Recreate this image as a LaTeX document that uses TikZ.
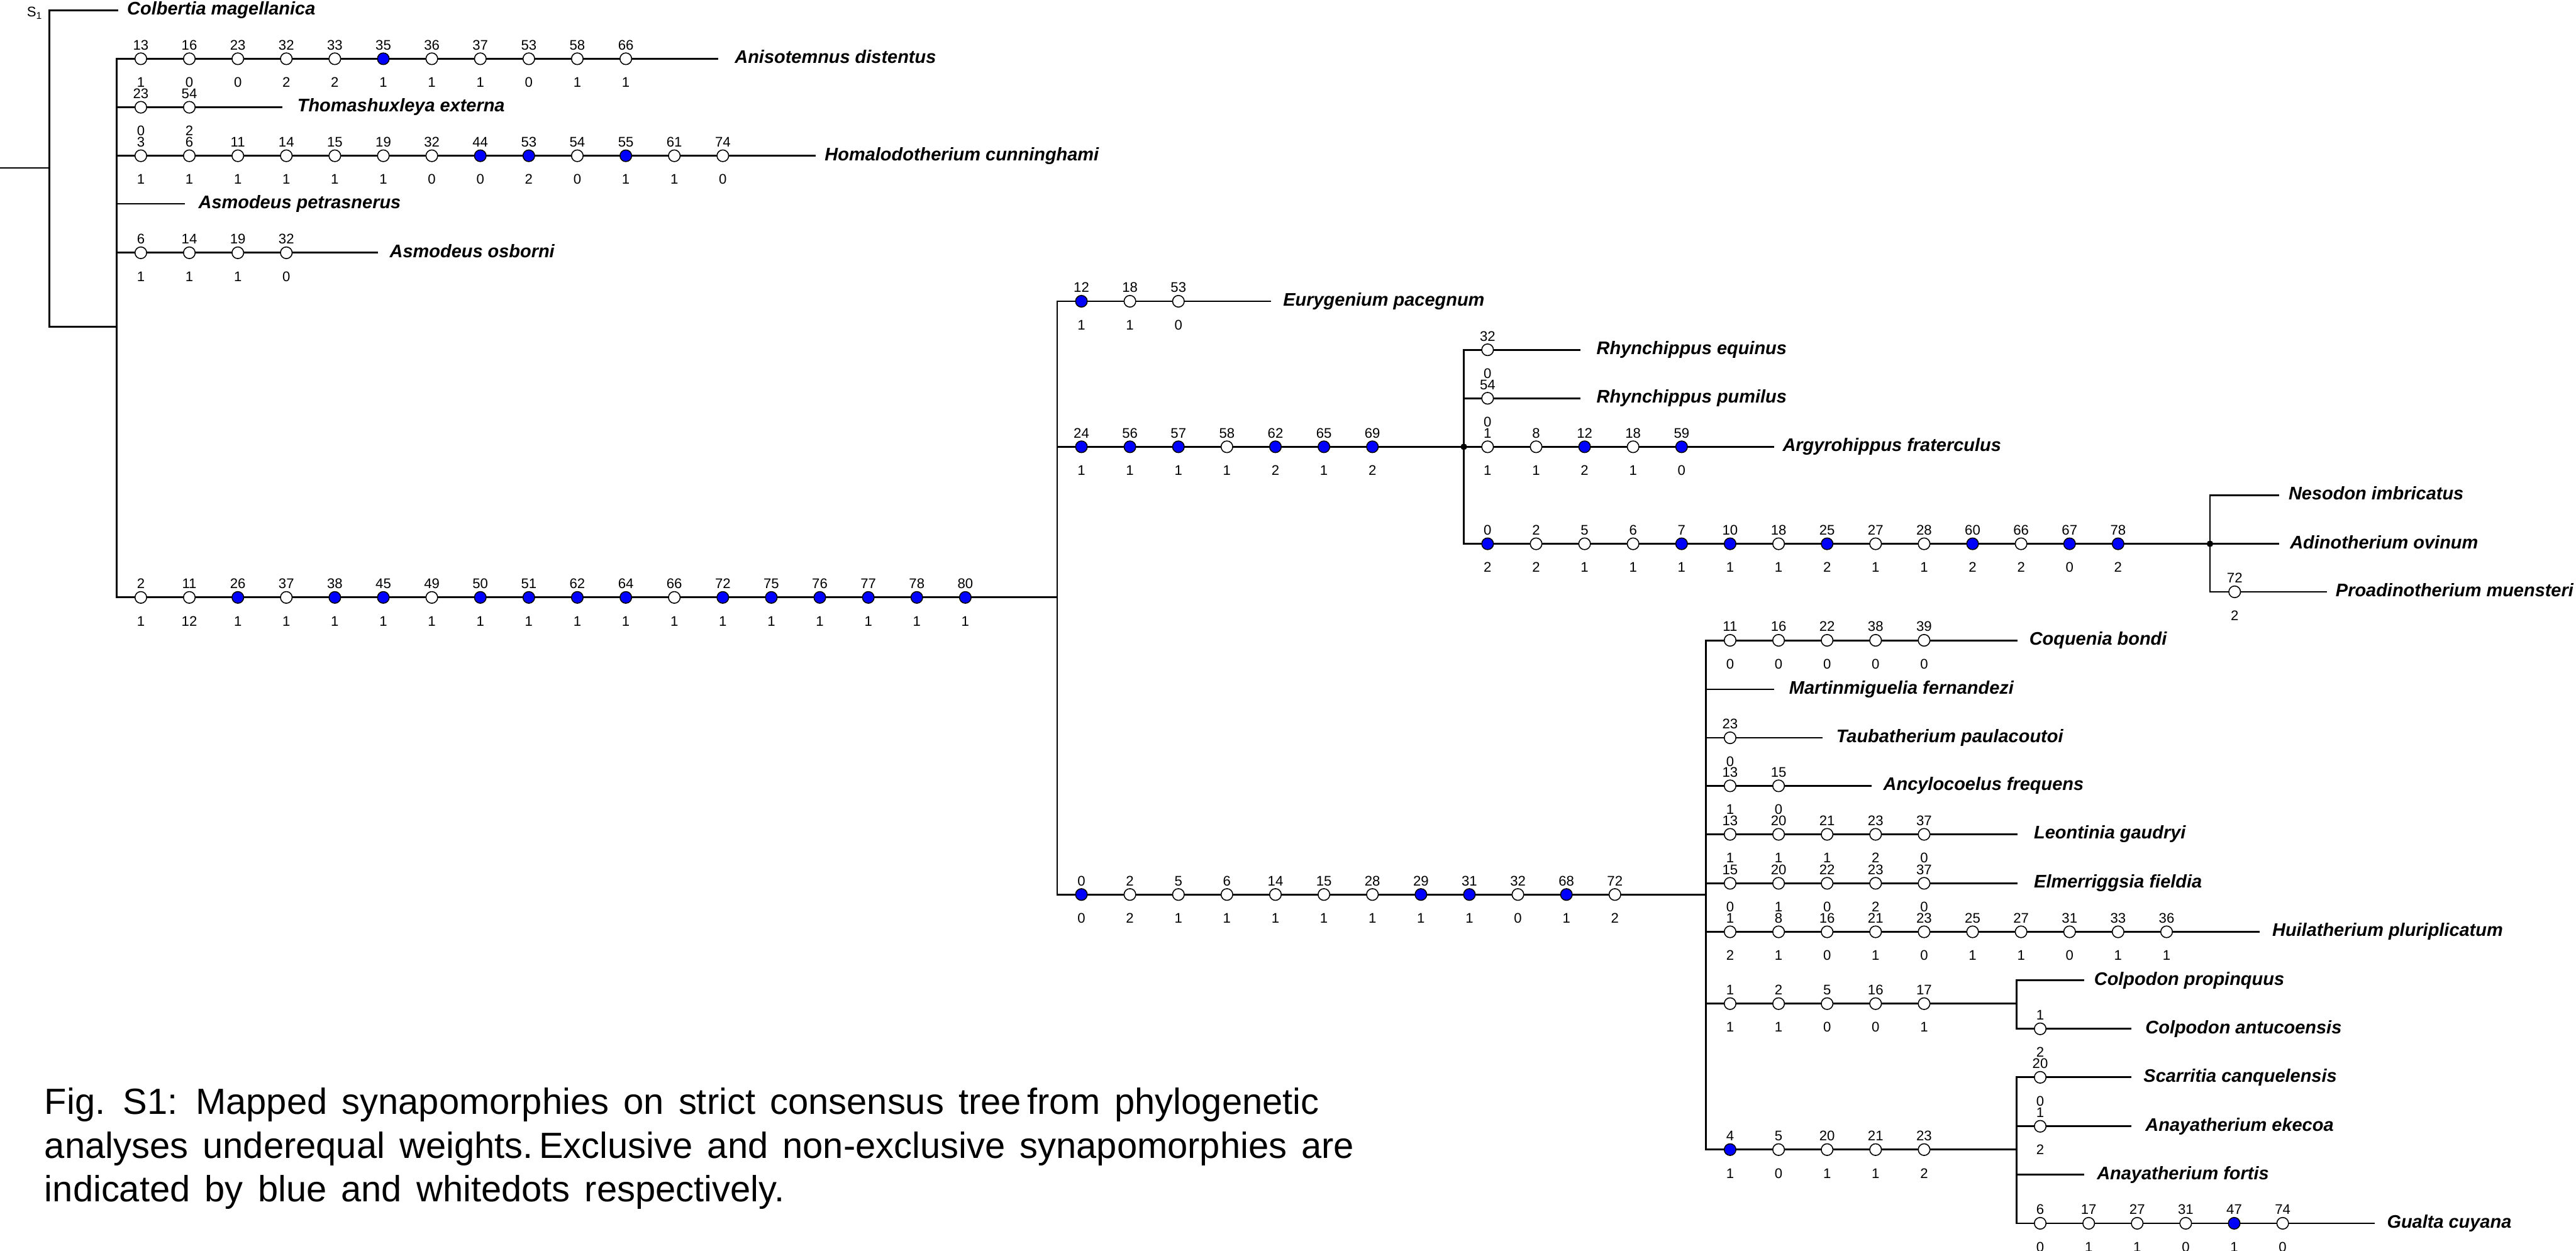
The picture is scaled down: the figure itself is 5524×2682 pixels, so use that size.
\documentclass[tikz,border=0pt]{standalone}
\usepackage{fontspec}
\setmainfont{Liberation Sans}
\tikzset{
 br/.style={line width=1.1pt, line cap=rect},
 dot0/.style={circle, draw=black, fill=white, line width=0.6pt, minimum size=0.25cm, inner sep=0pt},
 dot1/.style={dot0, fill=blue},
 ndot/.style={circle, fill=black, minimum size=0.14cm, inner sep=0pt},
 clab/.style={anchor=base, inner sep=0pt, font=\fontsize{8.5}{10}\selectfont},
 taxon/.style={anchor=base west, inner sep=0pt, font=\fontsize{11.1}{13}\selectfont\bfseries\itshape},
 capt/.style={anchor=base west, inner sep=0pt, font=\fontsize{22.2}{27}\selectfont},
}
\newcommand\capspace{\spaceskip=0.4em\relax}
\newcommand\synap[4]{%
 \foreach \c/\s/\b [count=\i from 0] in {#4} {%
   \pgfmathsetmacro\xx{#2+104*\i}%
   \node[dot\b] (#1-\i) at ({\xx},{#3}) {};
   \node[clab] (#1-c\i) at ({\xx},{#3-19}) {\c};
   \node[clab] (#1-s\i) at ({\xx},{#3+61}) {\s};
 }}
\newcommand\leaf[6]{%
 \coordinate (#1-s) at (#2,#3);
 \coordinate (#1-e) at (#4,#3);
 \draw[br] (#1-s) -- (#1-e);
 \node[taxon] (#1) at ({#5},{#3+10}) {#6};}
\begin{document}
\begin{tikzpicture}[x=0.01cm,y=-0.01cm]
\fill[white] (0,0) rectangle (5524,2682);
\useasboundingbox (0,0) rectangle (5524,2682);
% root
\coordinate (r0) at (0,360);
\coordinate (rM) at (106,360);
\coordinate (rT) at (106,22);
\coordinate (rB) at (106,701);
\coordinate (aB) at (250,701);
\coordinate (aT) at (250,126);
\coordinate (aM) at (250,1281);
\draw[br] (r0) -- (rM);
\draw[br] (rT) -- (rB) -- (aB);
\draw[br] (aT) -- (aM);
\node[clab, anchor=base west] (s1) at (57,36) {S\raisebox{-0.35ex}{\fontsize{6}{7}\selectfont 1}};
\leaf{colb}{106}{22}{252}{272}{Colbertia magellanica}
\leaf{anis}{250}{126}{1538}{1575}{Anisotemnus distentus}
\leaf{thom}{250}{230}{603}{637}{Thomashuxleya externa}
\leaf{homa}{250}{334}{1747}{1768}{Homalodotherium cunninghami}
\leaf{apet}{250}{437}{394}{425}{Asmodeus petrasnerus}
\leaf{aosb}{250}{542}{809}{835}{Asmodeus osborni}
% main stem
\coordinate (bN) at (2267,1281);
\draw[br] (aM) -- (bN);
\coordinate (bT) at (2267,646);
\coordinate (bB) at (2267,1918);
\draw[br] (bT) -- (bB);
\leaf{eury}{2267}{646}{2724}{2751}{Eurygenium pacegnum}
\coordinate (cS) at (2267,958);
\coordinate (cN) at (3139,958);
\draw[br] (cS) -- (cN);
\coordinate (cT) at (3139,750);
\coordinate (cB) at (3139,1166);
\draw[br] (cT) -- (cB);
\leaf{requ}{3139}{750}{3387}{3423}{Rhynchippus equinus}
\leaf{rpum}{3139}{854}{3387}{3423}{Rhynchippus pumilus}
\leaf{argy}{3139}{958}{3802}{3822}{Argyrohippus fraterculus}
\coordinate (dN) at (4739,1166);
\draw[br] (cB) -- (dN);
\coordinate (dT) at (4739,1062);
\coordinate (dB) at (4739,1269);
\draw[br] (dT) -- (dB);
\leaf{neso}{4739}{1062}{4885}{4907}{Nesodon imbricatus}
\leaf{adin}{4739}{1166}{4885}{4910}{Adinotherium ovinum}
\leaf{proa}{4739}{1269}{4988}{5008}{Proadinotherium muensteri}
\node[ndot] (cdot) at (cN) {};
\node[ndot] (ddot) at (dN) {};
% lower clade
\coordinate (eN) at (3658,1918);
\draw[br] (bB) -- (eN);
\coordinate (eT) at (3658,1373);
\coordinate (eB) at (3658,2465);
\draw[br] (eT) -- (eB);
\leaf{coqu}{3658}{1373}{4324}{4351}{Coquenia bondi}
\leaf{mart}{3658}{1478}{3802}{3836}{Martinmiguelia fernandezi}
\leaf{taub}{3658}{1582}{3907}{3937}{Taubatherium paulacoutoi}
\leaf{ancy}{3658}{1685}{4011}{4038}{Ancylocoelus frequens}
\leaf{leon}{3658}{1789}{4324}{4361}{Leontinia gaudryi}
\leaf{elme}{3658}{1894}{4324}{4361}{Elmerriggsia fieldia}
\leaf{huil}{3658}{1998}{4843}{4872}{Huilatherium pluriplicatum}
\coordinate (fS) at (3658,2152);
\coordinate (fN) at (4324,2152);
\draw[br] (fS) -- (fN);
\coordinate (fT) at (4324,2102);
\coordinate (fB) at (4324,2206);
\draw[br] (fT) -- (fB);
\leaf{cpro}{4324}{2102}{4467}{4490}{Colpodon propinquus}
\leaf{cant}{4324}{2206}{4569}{4600}{Colpodon antucoensis}
\coordinate (gN) at (4324,2465);
\draw[br] (eB) -- (gN);
\coordinate (gT) at (4324,2310);
\coordinate (gB) at (4324,2623);
\draw[br] (gT) -- (gB);
\leaf{scar}{4324}{2310}{4569}{4596}{Scarritia canquelensis}
\leaf{aeke}{4324}{2415}{4569}{4600}{Anayatherium ekecoa}
\leaf{afor}{4324}{2519}{4467}{4496}{Anayatherium fortis}
\leaf{gual}{4324}{2623}{5091}{5118}{Gualta cuyana}
% synapomorphies
\synap{sA}{302}{126}{13/1/0,16/0/0,23/0/0,32/2/0,33/2/0,35/1/1,36/1/0,37/1/0,53/0/0,58/1/0,66/1/0}
\synap{sT}{302}{230}{23/0/0,54/2/0}
\synap{sH}{302}{334}{3/1/0,6/1/0,11/1/0,14/1/0,15/1/0,19/1/0,32/0/0,44/0/1,53/2/1,54/0/0,55/1/1,61/1/0,74/0/0}
\synap{sO}{302}{542}{6/1/0,14/1/0,19/1/0,32/0/0}
\synap{sM}{302}{1281}{2/1/0,11/12/0,26/1/1,37/1/0,38/1/1,45/1/1,49/1/0,50/1/1,51/1/1,62/1/1,64/1/1,66/1/0,72/1/1,75/1/1,76/1/1,77/1/1,78/1/1,80/1/1}
\synap{sE}{2319}{646}{12/1/1,18/1/0,53/0/0}
\synap{sC}{2319}{958}{24/1/1,56/1/1,57/1/1,58/1/0,62/2/1,65/1/1,69/2/1}
\synap{sRe}{3190}{750}{32/0/0}
\synap{sRp}{3190}{854}{54/0/0}
\synap{sAr}{3190}{958}{1/1/0,8/1/0,12/2/1,18/1/0,59/0/1}
\synap{sD}{3190}{1166}{0/2/1,2/2/0,5/1/0,6/1/0,7/1/1,10/1/1,18/1/0,25/2/1,27/1/0,28/1/0,60/2/1,66/2/0,67/0/1,78/2/1}
\synap{sP}{4792}{1269}{72/2/0}
\synap{sL}{2319}{1918}{0/0/1,2/2/0,5/1/0,6/1/0,14/1/0,15/1/0,28/1/0,29/1/1,31/1/1,32/0/0,68/1/1,72/2/0}
\synap{sCq}{3710}{1373}{11/0/0,16/0/0,22/0/0,38/0/0,39/0/0}
\synap{sTa}{3710}{1582}{23/0/0}
\synap{sAn}{3710}{1685}{13/1/0,15/0/0}
\synap{sLe}{3710}{1789}{13/1/0,20/1/0,21/1/0,23/2/0,37/0/0}
\synap{sEl}{3710}{1894}{15/0/0,20/1/0,22/0/0,23/2/0,37/0/0}
\synap{sHu}{3710}{1998}{1/2/0,8/1/0,16/0/0,21/1/0,23/0/0,25/1/0,27/1/0,31/0/0,33/1/0,36/1/0}
\synap{sF}{3710}{2152}{1/1/0,2/1/0,5/0/0,16/0/0,17/1/0}
\synap{sCa}{4375}{2206}{1/2/0}
\synap{sG}{3710}{2465}{4/1/1,5/0/0,20/1/0,21/1/0,23/2/0}
\synap{sSc}{4375}{2310}{20/0/0}
\synap{sEk}{4375}{2415}{1/2/0}
\synap{sGu}{4375}{2623}{6/0/0,17/1/0,27/1/0,31/0/0,47/1/1,74/0/0}
% caption
\node[capt] (cap1) at (95,2389) {\capspace Fig. S1: Mapped synapomorphies on strict consensus tree\,from phylogenetic};
\node[capt] (cap2) at (95,2483) {\capspace analyses underequal weights.\,Exclusive and non-exclusive synapomorphies are};
\node[capt] (cap3) at (95,2576) {\capspace indicated by blue and whitedots respectively.};
\end{tikzpicture}
\end{document}
